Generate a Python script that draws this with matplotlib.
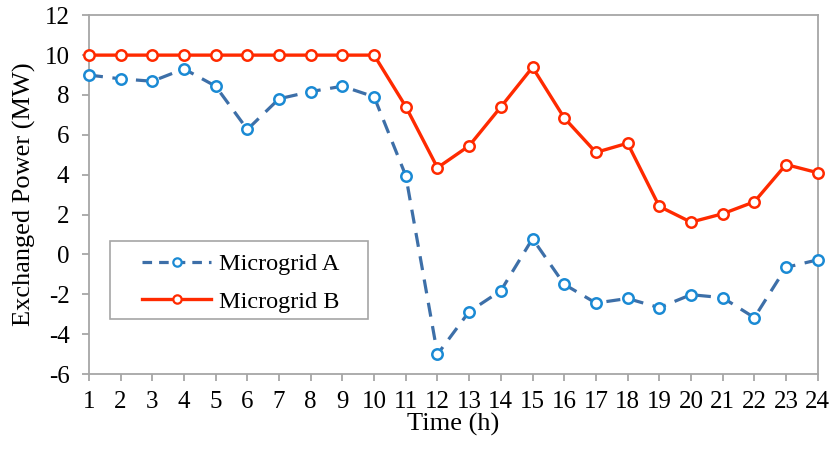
import numpy as np
import matplotlib.pyplot as plt
from matplotlib.patches import Rectangle
from matplotlib.lines import Line2D

plt.rcParams['font.family'] = ['Liberation Serif', 'DejaVu Serif']
plt.rcParams['axes.unicode_minus'] = False

# Dane
hours = np.arange(1, 25)
microgrid_a = [9.0, 8.81, 8.69, 9.31, 8.44, 6.27, 7.81, 8.17, 8.44, 7.91, 3.95, -5.01,
               -2.87, -1.82, 0.79, -1.50, -2.44, -2.21, -2.67, -2.02, -2.17, -3.17, -0.65, -0.27]
microgrid_b = [10, 10, 10, 10, 10, 10, 10, 10, 10, 10, 7.42, 4.35,
               5.45, 7.40, 9.39, 6.85, 5.12, 5.58, 2.41, 1.62, 2.04, 2.64, 4.51, 4.10]

blue_line = '#3D6FA8'
blue_mark = '#1A8AD4'
red = '#FF2A00'
grey = '#A6A6A6'
dash = (0, (4.4, 3.0))

fig, ax = plt.subplots(figsize=(8.31, 4.49), dpi=100)
fig.subplots_adjust(left=0.107, right=0.984, top=0.966, bottom=0.167)

ax.plot(hours, microgrid_a, color=blue_line, lw=2.3, linestyle=dash, marker='o', ms=7.5,
        mfc='white', mec=blue_mark, mew=1.8, zorder=3, clip_on=False)
ax.plot(hours, microgrid_b, color=red, lw=2.4, marker='o', ms=7.5, mfc='white',
        mec=red, mew=1.8, zorder=4, clip_on=False)

ax.set_xlim(1, 24)
ax.set_ylim(-6, 12)
ax.set_xticks(hours)
ax.set_yticks(np.arange(-6, 13, 2))
ax.tick_params(labelsize=18, color=grey, width=1.3, length=5, direction='out')
ax.tick_params(axis='y', pad=9)
ax.tick_params(axis='x', pad=7)
for s in ax.spines.values():
    s.set_color(grey)
    s.set_linewidth(1.3)

ax.set_xlabel('Time (h)', fontsize=19, labelpad=0)
ax.set_ylabel('Exchanged Power (MW)', fontsize=19, labelpad=6)

# Legenda z ramką rysowaną osobno
ax.add_patch(Rectangle((0.029, 0.153), 0.354, 0.217, transform=ax.transAxes,
                       fill=True, facecolor='white', edgecolor=grey, lw=1.2, zorder=5))
handles = [
    Line2D([], [], color=blue_line, lw=2.3, linestyle=(0, (3.0, 2.2)), marker='o', ms=6,
           mfc='white', mec=blue_mark, mew=1.6, label='Microgrid A'),
    Line2D([], [], color=red, lw=2.4, marker='o', ms=6,
           mfc='white', mec=red, mew=1.6, label='Microgrid B'),
]
leg = ax.legend(handles=handles, loc='upper left', bbox_to_anchor=(0.073, 0.336),
                fontsize=17.5, frameon=False, handlelength=2.85, borderpad=0,
                borderaxespad=0, labelspacing=0.62, handletextpad=0.3)
leg.set_zorder(6)

plt.savefig('out.png', dpi=100)
